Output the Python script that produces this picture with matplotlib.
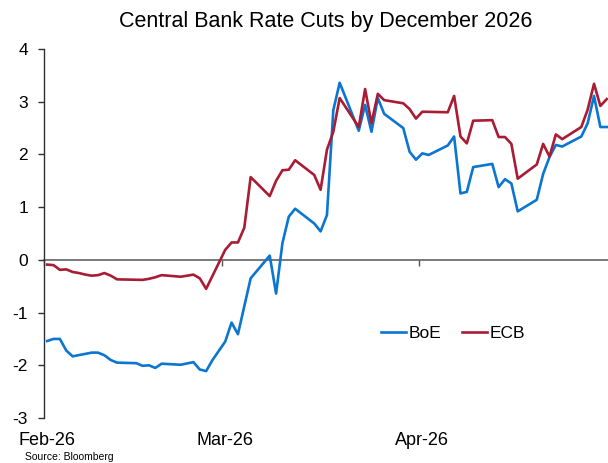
import matplotlib
matplotlib.use("Agg")
import matplotlib.pyplot as plt

plt.rcParams['font.family'] = ['Liberation Sans', 'DejaVu Sans']
plt.rcParams['axes.unicode_minus'] = False

# days counted from 1 Feb 2026 (0 = Feb 1)
boe_days = [0, 1, 2, 3, 4, 7, 8, 9, 10, 11, 14, 15, 16, 17, 18, 21, 23, 24, 25, 26,
            28, 29, 30, 32, 35, 36, 37, 38, 39, 42, 43, 44, 45, 46, 49, 50, 51, 52, 53,
            56, 57, 58, 59, 60, 63, 64, 65, 66, 67, 70, 71, 72, 73, 74, 77, 78, 79, 80,
            81, 84, 85, 86, 87, 88]
boe = [-1.54, -1.50, -1.50, -1.72, -1.83, -1.76, -1.76, -1.81, -1.90, -1.95, -1.96,
       -2.01, -2.00, -2.05, -1.97, -1.99, -1.94, -2.08, -2.11, -1.90,
       -1.55, -1.19, -1.41, -0.35, 0.08, -0.64, 0.32, 0.82, 0.97, 0.69, 0.54, 0.85,
       2.84, 3.36, 2.45, 2.94, 2.43, 3.07, 2.77,
       2.50, 2.05, 1.90, 2.02, 1.99, 2.17, 2.34, 1.26, 1.29, 1.76, 1.82, 1.38, 1.53,
       1.45, 0.92, 1.14, 1.63, 1.95, 2.18,
       2.15, 2.34, 2.59, 3.11, 2.52, 2.52]

ecb_days = [0, 1, 2, 3, 4, 5, 6, 7, 8, 9, 10, 11, 15, 16, 17, 18, 21, 23, 24, 25,
            28, 29, 30, 31, 32, 35, 36, 37, 38, 39, 42, 43, 44, 45, 46, 49, 50, 51, 52,
            53, 56, 57, 58, 59, 63, 64, 65, 66, 67, 70, 71, 72, 73, 74, 77, 78, 79, 80,
            81, 84, 85, 86, 87, 88]
ecb = [-0.09, -0.10, -0.19, -0.18, -0.23, -0.25, -0.28, -0.30, -0.29, -0.25, -0.30,
       -0.37, -0.38, -0.36, -0.33, -0.29, -0.32, -0.28, -0.35, -0.55,
       0.19, 0.33, 0.33, 0.61, 1.57, 1.21, 1.50, 1.70, 1.71, 1.89, 1.61, 1.33, 2.09,
       2.43, 3.07, 2.52, 3.24, 2.59, 3.15,
       3.03, 2.97, 2.86, 2.68, 2.81, 2.80, 3.11, 2.34, 2.21, 2.64, 2.65, 2.33, 2.33,
       2.20, 1.54, 1.81, 2.20, 1.96, 2.38,
       2.29, 2.52, 2.85, 3.34, 2.92, 3.05]

month_labels = ["Feb-26", "Mar-26", "Apr-26"]
month_starts = [0, 28, 59]

blue = "#0b76d1"
red = "#a81c34"

fig = plt.figure(figsize=(6.08, 4.63), dpi=100)
ax = fig.add_axes([44 / 608, 1 - 418 / 463, 1 - 44 / 608, (418 - 49) / 463])

ax.plot(boe_days, boe, color=blue, lw=1.9, label="BoE", zorder=3)
ax.plot(ecb_days, ecb, color=red, lw=1.9, label="ECB", zorder=3)

ax.set_ylim(-3, 4)
ax.set_xlim(-0.5, 88.2)
ax.set_yticks(range(-3, 5))
ax.tick_params(axis='y', direction='out', length=4.5, width=1, color='#303030',
               labelsize=12.5, pad=7)

# month labels centred on the day, tick marks on month boundary
ax.set_xticks([])
ax.set_xticks(month_starts, minor=True)
ax.set_xticklabels(month_labels, minor=True)
ax.tick_params(axis='x', which='minor', length=0, labelsize=13, pad=10)

for s in ['top', 'right', 'bottom']:
    ax.spines[s].set_visible(False)
ax.spines['left'].set_color('#303030')
ax.spines['left'].set_linewidth(1)

sec = ax.secondary_xaxis(3 / 7)
sec.set_xticks([m - 0.5 for m in month_starts])
sec.tick_params(axis='x', length=4, width=1, color='#555555', labelbottom=False,
                labeltop=False)
sec.spines['bottom'].set_color('#555555')
sec.spines['bottom'].set_linewidth(1.1)

ax.legend(loc='center', bbox_to_anchor=(0.725, 0.23), ncol=2, frameon=False,
          fontsize=12.5, handlelength=1.45, handletextpad=0.15, columnspacing=1.2)

fig.text(326 / 608, 1 - 22 / 463, "Central Bank Rate Cuts by December 2026",
         ha='center', va='center', fontsize=15.5)
fig.text(25 / 608, 1 - 457 / 463, "Source: Bloomberg", ha='left', va='center',
         fontsize=7.5)

fig.savefig("out.png", dpi=100)
